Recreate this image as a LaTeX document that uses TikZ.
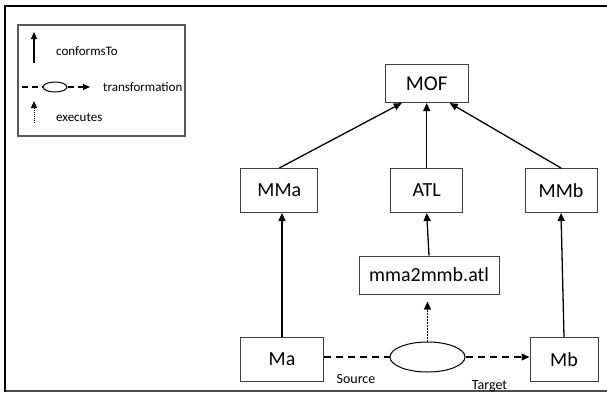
\documentclass[tikz,border=0pt]{standalone}
\usepackage{fontspec}
\setmainfont{Carlito}
\usetikzlibrary{arrows.meta,shapes.geometric}
\begin{document}
\begin{tikzpicture}[x=1pt,y=-1pt,
  box/.style={draw=black!75,line width=1pt,inner sep=0pt,font=\fontsize{20}{22}\selectfont},
  conn/.style={line width=1.3pt,-{Triangle[width=7pt,length=8pt]}},
  dashc/.style={line width=1.3pt,dash pattern=on 7pt off 5pt},
  dotc/.style={line width=1.3pt,dash pattern=on 1.5pt off 1.5pt},
  lbl/.style={font=\fontsize{14}{16}\selectfont,inner sep=0pt},
  leg/.style={font=\fontsize{13}{15}\selectfont,inner sep=0pt,anchor=west}]
\useasboundingbox (0,0) rectangle (607,394);
% frame
\draw[black!70,line width=1.3pt] (5,391) -- (607,391);
\draw[black,line width=2.6pt] (5,392) -- (5,6) -- (607,6);
% legend
\node[draw=black!65,line width=1.2pt,minimum width=167pt,minimum height=111pt,inner sep=0pt] (legend) at (101.5,80.5) {};
\coordinate (c1b) at (34,63);
\coordinate (c1t) at (34,32);
\draw[line width=1.3pt,-{Triangle[width=6pt,length=7pt]}] (c1b) -- (c1t);
\node[leg] (lconf) at (56,51) {conformsTo};
\coordinate (t0) at (22,87);
\node[draw,ellipse,line width=1pt,minimum width=24pt,minimum height=10pt,inner sep=0pt] (lell) at (55,87) {};
\coordinate (t1) at (90,87);
\draw[line width=1.1pt,dash pattern=on 6pt off 4pt] (t0) -- (lell.west);
\draw[line width=1.1pt,dash pattern=on 6pt off 4pt,-{Triangle[width=6pt,length=7pt]}] (lell.east) -- (t1);
\node[leg] (ltrans) at (103,87) {transformation};
\coordinate (e0) at (34,123);
\coordinate (e1) at (34,101);
\draw[line width=1pt,dash pattern=on 1pt off 1pt,-{Triangle[width=6pt,length=7pt]}] (e0) -- (e1);
\node[leg] (lexec) at (56,117) {executes};
% nodes
\node[box,minimum width=83pt,minimum height=38.5pt] (MOF) at (426.7,83.3) {\fontsize{21}{23}\selectfont MOF};
\node[box,minimum width=77pt,minimum height=44pt] (MMa) at (279.3,190.5) {MMa};
\node[box,minimum width=72pt,minimum height=44pt] (ATL) at (426.7,190.5) {ATL};
\node[box,minimum width=72pt,minimum height=44pt] (MMb) at (561,190.5) {MMb};
\node[box,minimum width=140pt,minimum height=38pt] (mma) at (429,275) {mma2mmb.atl};
\node[box,minimum width=83pt,minimum height=44pt] (Ma) at (282,359.5) {Ma};
\node[box,minimum width=68pt,minimum height=44pt] (Mb) at (564,359.5) {Mb};
\node[draw,ellipse,line width=1pt,minimum width=75pt,minimum height=30pt,inner sep=0pt] (tr) at (427.5,357) {};
\node[lbl] (src) at (356,379) {Source};
\node[lbl] (tgt) at (489.5,386) {Target};
% connectors
\draw[conn] (MMa.north) -- ([xshift=-25pt]MOF.south);
\draw[conn] (ATL.north) -- (MOF.south);
\draw[conn] (MMb.north) -- ([xshift=23pt]MOF.south);
\draw[conn] (Ma.north) -- (Ma.north |- MMa.south);
\draw[conn] (mma.north) -- (ATL.south);
\draw[conn] (Mb.north) -- (MMb.south);
\draw[dotc,-{Triangle[width=7pt,length=8pt]},shorten >=7pt] (tr.north) -- (tr.north |- mma.south);
\draw[dashc] (Ma.east |- tr.west) -- (tr.west);
\draw[dashc,-{Triangle[width=7pt,length=8pt]}] (tr.east) -- (Mb.west |- tr.east);
\end{tikzpicture}
\end{document}
